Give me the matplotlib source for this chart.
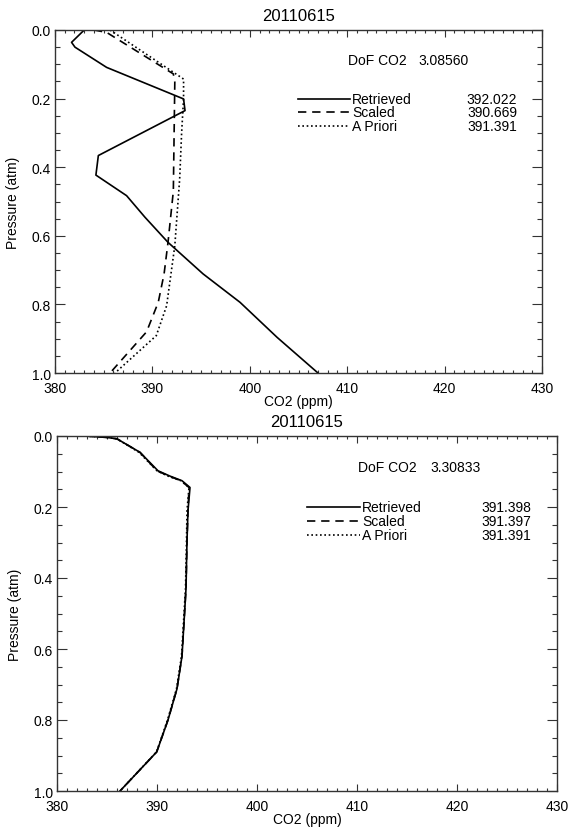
import matplotlib
matplotlib.use("Agg")
import matplotlib.pyplot as plt
from matplotlib.lines import Line2D
from matplotlib.ticker import MultipleLocator

plt.rcParams['font.family'] = ['Liberation Sans', 'DejaVu Sans']

# ---------------- data: top panel ----------------
title_top = "20110615"
dof_top = "3.08560"
p_top_ret = [0.0, 0.036, 0.05, 0.109, 0.201, 0.235, 0.366, 0.423, 0.483, 0.546, 0.619, 0.711, 0.794, 0.896, 1.0]
co2_top_ret = [383.0, 381.7, 382.05, 385.3, 393.2, 393.35, 384.45, 384.2, 387.35, 389.24, 391.6, 395.2, 399.0, 402.8, 407.0]
p_top_scl = [0.0, 0.007, 0.128, 0.152, 0.47, 0.62, 0.711, 0.794, 0.88, 1.0]
co2_top_scl = [384.0, 385.3, 392.15, 392.3, 392.15, 391.6, 391.2, 390.6, 389.4, 385.65]
p_top_apr = [0.0, 0.143, 0.2, 0.3, 0.434, 0.629, 0.804, 0.891, 1.0]
co2_top_apr = [385.65, 393.2, 393.2, 393.0, 392.8, 392.3, 391.46, 390.4, 386.16]
vals_top = ["392.022", "390.669", "391.391"]

# ---------------- data: bottom panel ----------------
title_bot = "20110615"
dof_bot = "3.30833"
p_bot = [0.0, 0.004, 0.008, 0.046, 0.098, 0.113, 0.126, 0.145, 0.21, 0.295, 0.43, 0.62, 0.712, 0.80, 0.89, 1.0]
co2_bot_ret = [382.8, 385.0, 386.0, 388.3, 390.1, 391.3, 392.5, 393.3, 393.1, 393.0, 392.9, 392.5, 392.0, 391.1, 389.97, 386.3]
co2_bot_scl = [382.8, 385.0, 386.0, 388.3, 390.0, 391.2, 392.4, 393.2, 393.1, 393.0, 392.9, 392.5, 392.0, 391.1, 389.97, 386.3]
co2_bot_apr = [382.8, 385.0, 386.0, 388.2, 390.0, 391.1, 392.4, 393.2, 393.0, 392.95, 392.85, 392.45, 391.95, 391.05, 389.95, 386.3]
vals_bot = ["391.398", "391.397", "391.391"]

labels = ["Retrieved", "Scaled", "A Priori"]
styles = ['-', (0, (5, 3.5)), (0, (1, 1.6))]

fig = plt.figure(figsize=(5.7, 8.29), dpi=100)
ax1 = fig.add_axes([55/570, 1-374/829, (542-55)/570, (374-31)/829])
ax2 = fig.add_axes([57/570, 1-792/829, (557-57)/570, (792-437)/829])


def setup(ax, title, dof, vals, series):
    for (x, y), ls in zip(series, styles):
        ax.plot(x, y, color='black', lw=1.2, linestyle=ls)
    ax.set_xlim(380, 430)
    ax.set_ylim(1.0, 0.0)
    ax.xaxis.set_major_locator(MultipleLocator(10))
    ax.xaxis.set_minor_locator(MultipleLocator(1))
    ax.yaxis.set_major_locator(MultipleLocator(0.2))
    ax.yaxis.set_minor_locator(MultipleLocator(0.05))
    ax.yaxis.set_major_formatter(plt.FuncFormatter(lambda v, p: f"{v:.1f}"))
    ax.tick_params(axis='both', which='both', direction='in', top=True, right=True,
                   labelsize=10, width=0.8, color='#333333')
    ax.tick_params(axis='x', which='major', length=5, pad=6)
    ax.tick_params(axis='x', which='minor', length=2.5)
    ax.tick_params(axis='y', which='major', length=7, pad=3)
    ax.tick_params(axis='y', which='minor', length=3.5)
    for s in ax.spines.values():
        s.set_linewidth(1.0)
        s.set_color('#333333')
    ax.set_title(title, fontsize=12, pad=7)
    ax.set_xlabel("CO2 (ppm)", fontsize=10, labelpad=-1)
    ax.set_ylabel("Pressure (atm)", fontsize=10, labelpad=8)
    ax.text(0.602, 0.913, "DoF CO2", transform=ax.transAxes, fontsize=10, va='center', ha='left')
    ax.text(0.747, 0.913, dof, transform=ax.transAxes, fontsize=10, va='center', ha='left')
    rows = [0.800, 0.760, 0.720]
    for yy, ls, lab, v in zip(rows, styles, labels, vals):
        ax.add_line(Line2D([0.499, 0.606], [yy, yy], transform=ax.transAxes,
                           color='black', lw=1.2, linestyle=ls))
        ax.text(0.610, yy, lab, transform=ax.transAxes, fontsize=10, va='center', ha='left')
        ax.text(0.949, yy, v, transform=ax.transAxes, fontsize=10, va='center', ha='right')


setup(ax1, title_top, dof_top, vals_top,
      [(co2_top_ret, p_top_ret), (co2_top_scl, p_top_scl), (co2_top_apr, p_top_apr)])
setup(ax2, title_bot, dof_bot, vals_bot,
      [(co2_bot_ret, p_bot), (co2_bot_scl, p_bot), (co2_bot_apr, p_bot)])

fig.savefig("out.png", dpi=100)
